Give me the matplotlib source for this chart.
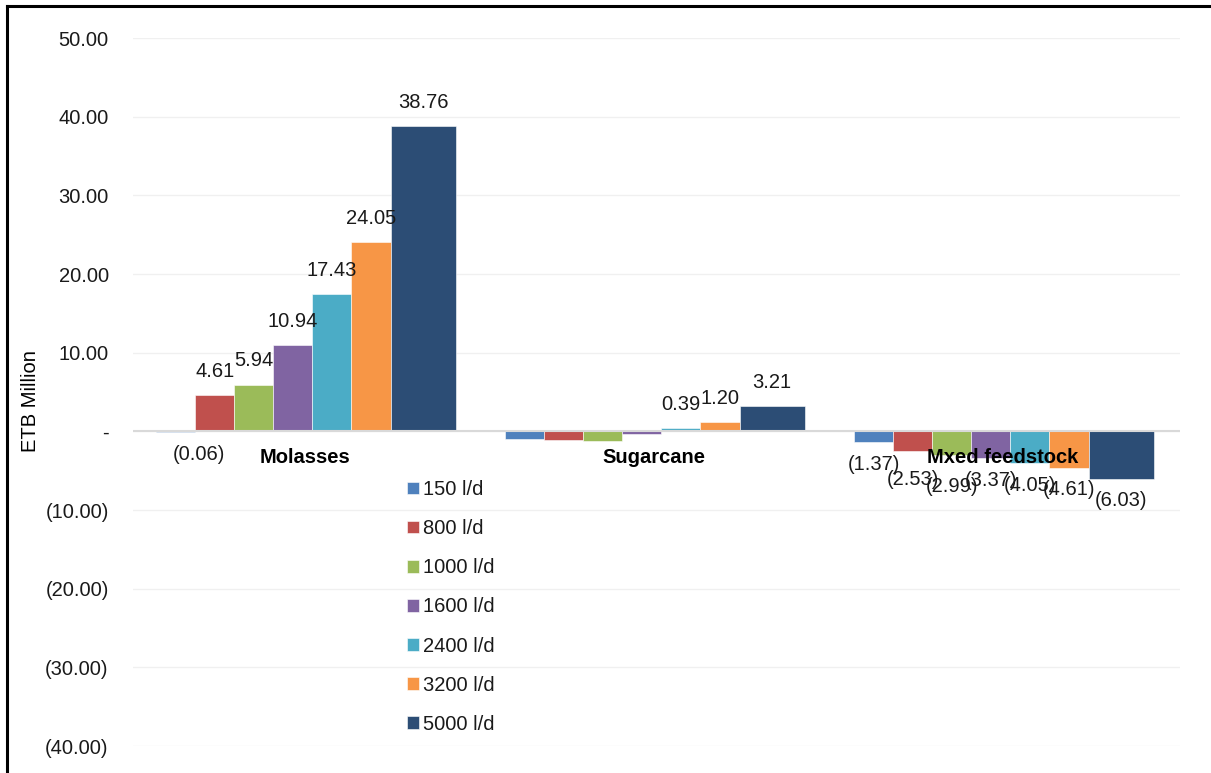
import numpy as np
import matplotlib.pyplot as plt
from matplotlib.lines import Line2D
from matplotlib.ticker import FuncFormatter

plt.rcParams['font.family'] = ['Liberation Sans', 'DejaVu Sans']
FS = 14.5

# Data (ETB Million)
categories = ['Molasses', 'Sugarcane', 'Mxed feedstock']
series = ['150 l/d', '800 l/d', '1000 l/d', '1600 l/d', '2400 l/d', '3200 l/d', '5000 l/d']
values = {
    '150 l/d':  [-0.06, -1.02, -1.37],
    '800 l/d':  [4.61, -1.05, -2.53],
    '1000 l/d': [5.94, -1.22, -2.99],
    '1600 l/d': [10.94, -0.30, -3.37],
    '2400 l/d': [17.43, 0.39, -4.05],
    '3200 l/d': [24.05, 1.20, -4.61],
    '5000 l/d': [38.76, 3.21, -6.03],
}
# which values carry a data label
show_label = {
    '150 l/d':  [True, False, True],
    '800 l/d':  [True, False, True],
    '1000 l/d': [True, False, True],
    '1600 l/d': [True, False, True],
    '2400 l/d': [True, True, True],
    '3200 l/d': [True, True, True],
    '5000 l/d': [True, True, True],
}
colors = ['#4F81BD', '#C0504D', '#9BBB59', '#8064A2', '#4BACC6', '#F79646', '#2C4D75']

W, H = 1211, 773
fig = plt.figure(figsize=(W / 100, H / 100), dpi=100)
ax = fig.add_axes([133 / W, 1 - 746 / H, (1180 - 133) / W, (746 - 38) / H])

x = np.arange(len(categories))
narrow, wide = 0.112, 0.187
start = -0.434

# small hand nudges for crowded labels (points)
nudge = {('150 l/d', 0): (17, 0), ('800 l/d', 2): (0, -4), ('1000 l/d', 2): (0, -7)}

left = start
for s, c in zip(series, colors):
    w = wide if s == '5000 l/d' else narrow
    vals = np.array(values[s])
    ax.bar(x + left + w / 2, vals, width=w, color=c, edgecolor='white',
           linewidth=0.4, label=s, zorder=2)
    for i, v in enumerate(vals):
        if not show_label[s][i]:
            continue
        txt = '{:.2f}'.format(v) if v >= 0 else '({:.2f})'.format(-v)
        dx, dy = nudge.get((s, i), (0, 0))
        off = 17 if v >= 0 else -16
        ax.annotate(txt, (i + left + w / 2, v), xytext=(dx, off + dy),
                    textcoords='offset points', ha='center', va='center',
                    fontsize=FS, color='#1a1a1a', zorder=4)
    left += w

# category names sit just under the zero line
for i, name in enumerate(categories):
    ax.annotate(name, (i, 0), xytext=(-2, -19), textcoords='offset points',
                ha='center', va='center', fontsize=FS, fontweight='bold',
                color='black', zorder=5)

ax.set_xlim(-0.5, 2.5)
ax.set_ylim(-40, 50)
ax.set_yticks(np.arange(-40, 51, 10))


def fmt(v, pos):
    if abs(v) < 1e-9:
        return '-'
    return '{:.2f}'.format(v) if v > 0 else '({:.2f})'.format(-v)


ax.yaxis.set_major_formatter(FuncFormatter(fmt))
ax.tick_params(axis='y', length=0, pad=17.5, labelsize=FS, labelcolor='#1a1a1a')
ax.set_xticks([])
ax.grid(axis='y', color='#f0f0f0', linewidth=1, zorder=0)
ax.axhline(0, color='#d9d9d9', linewidth=1.5, zorder=3)
for sp in ax.spines.values():
    sp.set_visible(False)

ax.set_ylabel('ETB Million', fontsize=FS)
ax.yaxis.set_label_coords(40 / W, 1 - 401 / H, transform=fig.transFigure)

leg = ax.legend(loc='upper left', bbox_to_anchor=(407 / W, 1 - 480 / H),
                bbox_transform=fig.transFigure, frameon=False, fontsize=FS,
                handlelength=0.6, handleheight=0.6, handletextpad=0.2,
                labelspacing=1.0, borderpad=0, borderaxespad=0)
for t in leg.get_texts():
    t.set_color('#1a1a1a')

# outer frame: left and top edges
fig.add_artist(Line2D([7 / W, 7 / W], [0, 1 - 6 / H], color='black', linewidth=2.2,
                      transform=fig.transFigure))
fig.add_artist(Line2D([7 / W, 1], [1 - 6 / H, 1 - 6 / H], color='black', linewidth=2.2,
                      transform=fig.transFigure))

plt.savefig('out.png', dpi=100)
